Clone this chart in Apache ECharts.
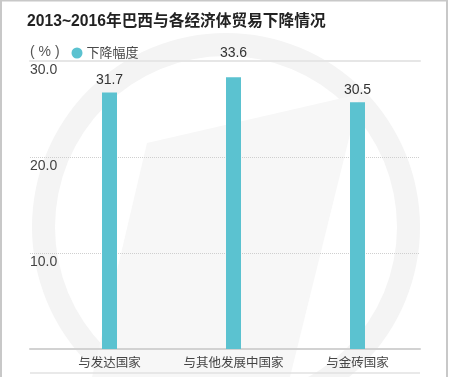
<!DOCTYPE html>
<html>
<head>
<meta charset="utf-8">
<script src="https://cdn.jsdelivr.net/npm/echarts@6/dist/echarts.min.js"></script>
<style>
  html, body { margin: 0; padding: 0; background: #fff; }
  #main { width: 450px; height: 377px; }
</style>
</head>
<body>
<div id="main"></div>
<script>
// data
const categories = ['与发达国家', '与其他发展中国家', '与金砖国家'];
const declineValues = [31.7, 33.6, 30.5];
const tickValues = [0, 10, 20, 30];

const chart = echarts.init(document.getElementById('main'));
const font = '"Liberation Sans", "Noto Sans CJK SC", sans-serif';
const barColor = '#5bc2d0';

const option = {
    backgroundColor: '#fff',
    animation: false,
    textStyle: { fontFamily: font },
    title: {
        text: '2013~2016年巴西与各经济体贸易下降情况',
        left: 27,
        top: 14,
        padding: 0,
        textStyle: { fontSize: 15.7, fontWeight: 'bold', color: '#222', fontFamily: font }
    },
    legend: {
        data: ['下降幅度'],
        left: 71.5,
        top: 46.5,
        padding: 0,
        icon: 'circle',
        itemWidth: 11,
        itemHeight: 11,
        itemGap: 5,
        textStyle: { fontSize: 13, color: '#4a4a4a', fontFamily: font, padding: [0, 0, 0, -1] }
    },
    graphic: [
        // watermark
        {
            type: 'ring', z: -10, silent: true,
            shape: { cx: 226, cy: 227, r: 194, r0: 171 },
            style: { fill: '#f4f4f4' }
        },
        {
            type: 'polygon', z: -10, silent: true,
            shape: { points: [[147, 143], [360, 94], [290, 377], [92, 377]] },
            style: { fill: '#f7f7f7' }
        },
        // frame
        {
            type: 'rect', silent: true,
            shape: { x: 1, y: 0.5, width: 446, height: 380 },
            style: { fill: null, stroke: '#c8c8c8', lineWidth: 2 }
        },
        {
            type: 'text', left: 30, top: 45,
            style: { text: '( % )', fill: '#555', font: '14px "Liberation Sans", sans-serif' }
        },
        {
            type: 'line', silent: true,
            shape: { x1: 30, y1: 373, x2: 420, y2: 373 },
            style: { stroke: '#e2e2e2', lineWidth: 1.5 }
        }
    ],
    grid: [
        { left: 30, right: 30, top: 61, bottom: 28 },
        { left: 47.5, right: 30.5, top: 61, bottom: 28 }
    ],
    xAxis: [
        {
            gridIndex: 0, type: 'value', position: 'bottom',
            axisLine: { show: true, onZero: false, lineStyle: { color: '#d2d2d2', width: 2 } },
            axisTick: { show: false }, axisLabel: { show: false }, splitLine: { show: false }
        },
        {
            gridIndex: 0, type: 'value', position: 'top',
            axisLine: { show: true, onZero: false, lineStyle: { color: '#e6e6e6', width: 2 } },
            axisTick: { show: false }, axisLabel: { show: false }, splitLine: { show: false }
        },
        {
            gridIndex: 1, type: 'category', data: categories,
            axisLine: { show: false }, axisTick: { show: false },
            axisLabel: { interval: 0, fontSize: 12.5, color: '#444', margin: 8, fontFamily: font }
        }
    ],
    yAxis: [
        {
            gridIndex: 0, type: 'value',
            min: tickValues[0], max: tickValues[tickValues.length - 1], interval: 10,
            axisLine: { show: false }, axisTick: { show: false },
            axisLabel: {
                inside: true, margin: 0, verticalAlign: 'top', showMinLabel: false,
                padding: [2, 0, 0, 0],
                fontSize: 14, color: '#444', fontFamily: font,
                formatter: v => v.toFixed(1)
            },
            splitLine: { lineStyle: { color: '#cfcfcf', type: 'dotted', width: 1 } }
        },
        {
            gridIndex: 1, type: 'value', min: 0, max: 35.6, show: false
        }
    ],
    series: [
        {
            name: '下降幅度',
            type: 'bar',
            xAxisIndex: 2,
            yAxisIndex: 1,
            barWidth: 15,
            itemStyle: { color: barColor },
            label: {
                show: true, position: 'top', distance: 5,
                fontSize: 14, color: '#333', fontFamily: font,
                formatter: p => p.value.toFixed(1)
            },
            data: declineValues.map((v, i) => i === 1 ? { value: v, label: { distance: 17 } } : v)
        }
    ]
};

chart.setOption(option);
</script>
</body>
</html>
